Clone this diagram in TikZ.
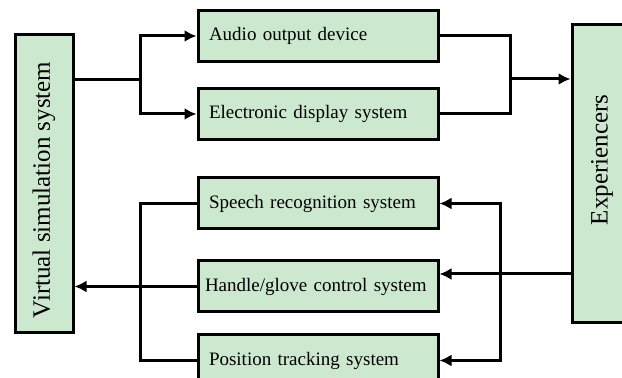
\documentclass[tikz,border=0pt]{standalone}
\usepackage{fontspec}
\setmainfont{Liberation Serif}
\usepackage{tikz}
\usetikzlibrary{arrows.meta, positioning}
\definecolor{boxgreen}{RGB}{204,232,206}

\begin{document}
\begin{tikzpicture}[x=0.5pt, y=-0.5pt,
    sys/.style={rectangle, draw=black, fill=boxgreen, line width=1.5pt, text width=113pt, align=left, inner xsep=3.5pt, inner ysep=0pt, minimum height=25.5pt, font=\fontsize{9.5}{11}\selectfont},
    side/.style={rectangle, draw=black, fill=boxgreen, line width=1.5pt, minimum width=29pt, minimum height=149pt, inner sep=0pt, font=\fontsize{12.5}{14}\selectfont},
    line/.style={draw, line width=1.5pt},
    arrow/.style={line, -{Latex[length=6pt, width=6pt]}}]

    \useasboundingbox (0,0) rectangle (622,378);
    \clip (0,0) rectangle (622,378);

    % outer blocks
    \node [side] (vss) at (44,184) {\rotatebox{90}{Virtual simulation system\hspace*{6pt}}};
    \node [side, minimum width=30pt] (exp) at (602,174) {\rotatebox{90}{\hspace*{14pt}Experiencers}};

    % output devices
    \node [sys] (audio) at (318,36) {\hspace*{2pt}Audio output device};
    \node [sys, below=12pt of audio] (display) {\hspace*{2pt}Electronic display system};

    % input devices
    \node [sys, below=17.75pt of display] (speech) {\hspace*{2pt}Speech recognition system};
    \node [sys, below=14.5pt of speech] (glove) {Handle/glove control system};
    \node [sys, below=10pt of glove] (tracking) {\hspace*{2pt}Position tracking system};

    \coordinate (fork) at (140,80);
    \coordinate (merge) at (510,79);
    \coordinate (hub) at (500,274);
    \coordinate (gather) at (140,277);

    \path [line] (vss.east |- fork) -- (fork);
    \path [arrow] (fork) |- (audio);
    \path [arrow] (fork) |- (display);

    \path [line] (audio) -| (merge);
    \path [line] (display) -| (merge);
    \path [arrow] (merge) -- (exp.west |- merge);

    \path [line] (exp.west |- hub) -- (hub);
    \path [arrow] (hub) |- (speech);
    \path [arrow] (hub) |- (tracking);
    \path [arrow] (hub) -- (glove.east |- hub);

    \path [line] (speech) -| (gather) |- (tracking);
    \path [arrow] (glove) -- (vss.east |- glove);
\end{tikzpicture}
\end{document}
